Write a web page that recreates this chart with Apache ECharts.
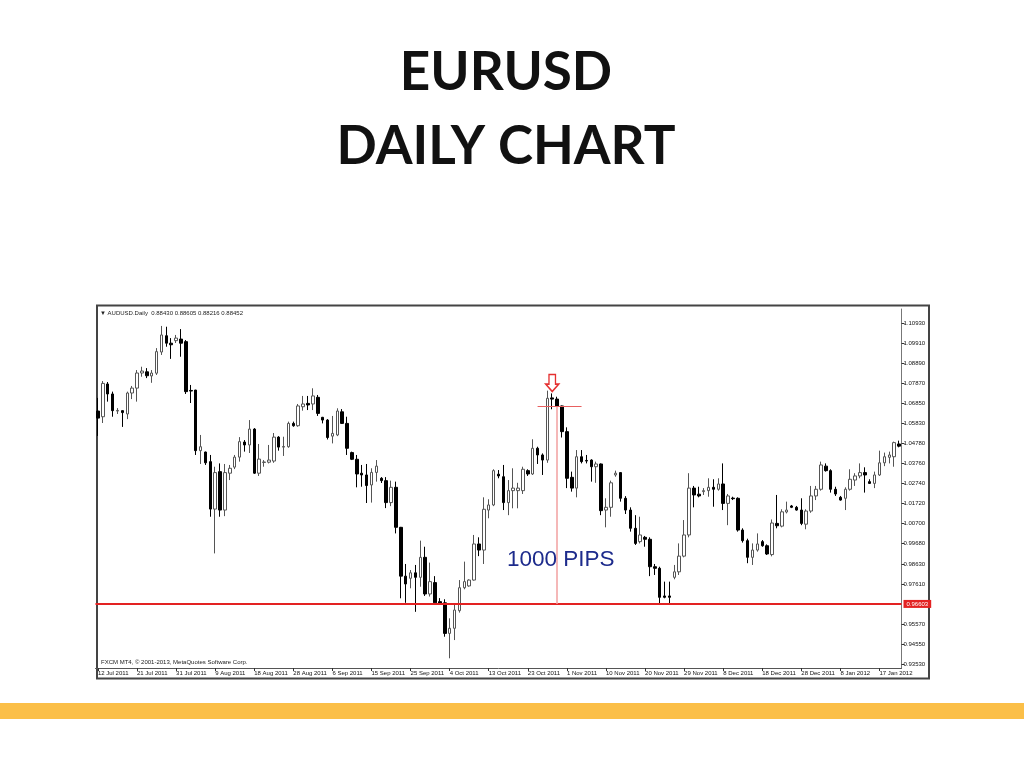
<!DOCTYPE html>
<html><head><meta charset="utf-8">
<script src="https://cdn.jsdelivr.net/npm/echarts@6/dist/echarts.min.js"></script>
<style>html,body{margin:0;padding:0;background:#fff}#c{width:1024px;height:768px}</style>
</head><body><div id="c"></div>
<script>
const dateLabels = ['12 Jul 2011','21 Jul 2011','31 Jul 2011','9 Aug 2011','18 Aug 2011','28 Aug 2011','6 Sep 2011','15 Sep 2011','25 Sep 2011','4 Oct 2011','13 Oct 2011','23 Oct 2011','1 Nov 2011','10 Nov 2011','20 Nov 2011','29 Nov 2011','8 Dec 2011','18 Dec 2011','28 Dec 2011','8 Jan 2012','17 Jan 2012'];
const priceTicks = [1.10930,1.09910,1.08890,1.07870,1.06850,1.05830,1.04780,1.03760,1.02740,1.01720,1.00700,0.99680,0.98630,0.97610,0.95570,0.94550,0.93530];
const supportLevel = 0.96603;
const topLevel = 1.0666;

const opens = [1.0644,1.0615,1.0782,1.0731,1.0644,1.0646,1.0629,1.0736,1.0761,1.0838,
1.0844,1.0823,1.0837,1.0945,1.1028,1.0990,1.1003,1.1011,1.0998,1.0749,
1.0751,1.0442,1.0435,1.0386,1.0144,1.0335,1.0139,1.0327,1.0358,1.0409,
1.0486,1.0471,1.0552,1.0327,1.0382,1.0383,1.0389,1.0511,1.0460,1.0462,
1.0581,1.0569,1.0666,1.0683,1.0680,1.0714,1.0612,1.0598,1.0516,1.0522,
1.0640,1.0581,1.0432,1.0398,1.0327,1.0318,1.0267,1.0331,1.0301,1.0289,
1.0177,1.0255,1.0051,0.9802,0.9791,0.9819,0.9796,0.9898,0.9711,0.9769,
0.9672,0.9666,0.9510,0.9536,0.9626,0.9743,0.9752,0.9782,0.9966,0.9935,
1.0139,1.0165,1.0322,1.0309,1.0177,1.0238,1.0238,1.0238,1.0340,1.0323,
1.0454,1.0420,1.0394,1.0711,1.0705,1.0670,1.0539,1.0306,1.0251,1.0411,
1.0392,1.0394,1.0360,1.0374,1.0139,1.0153,1.0318,1.0330,1.0199,1.0139,
1.0046,0.9978,1.0000,0.9990,0.9850,0.9842,0.9701,0.9701,0.9796,0.9824,
0.9904,1.0012,1.0251,1.0220,1.0233,1.0238,1.0255,1.0245,1.0272,1.0173,
1.0200,1.0199,1.0037,0.9983,0.9898,0.9935,0.9978,0.9957,0.9912,1.0071,
1.0057,1.0129,1.0160,1.0153,1.0139,1.0067,1.0134,1.0211,1.0245,1.0363,
1.0340,1.0245,1.0204,1.0199,1.0245,1.0292,1.0313,1.0330,1.0284,1.0275,
1.0318,1.0380,1.0408,1.0411,1.0476];
const closes = [1.0608,1.0785,1.0731,1.0646,1.0647,1.0636,1.0736,1.0761,1.0838,1.0848,
1.0824,1.0838,1.0947,1.1032,1.0990,1.0982,1.1016,1.0990,1.0743,1.0746,
1.0442,1.0462,1.0380,1.0144,1.0330,1.0139,1.0330,1.0352,1.0409,1.0488,
1.0471,1.0552,1.0327,1.0399,1.0384,1.0394,1.0511,1.0460,1.0463,1.0581,
1.0569,1.0670,1.0680,1.0675,1.0721,1.0632,1.0598,1.0509,1.0530,1.0644,
1.0581,1.0454,1.0398,1.0323,1.0318,1.0264,1.0331,1.0363,1.0289,1.0177,
1.0255,1.0051,0.9802,0.9762,0.9819,0.9796,0.9898,0.9711,0.9774,0.9666,
0.9663,0.9510,0.9536,0.9629,0.9743,0.9774,0.9782,0.9966,0.9935,1.0143,
1.0165,1.0340,1.0313,1.0177,1.0238,1.0251,1.0251,1.0347,1.0323,1.0454,
1.0420,1.0394,1.0709,1.0705,1.0670,1.0539,1.0301,1.0251,1.0411,1.0386,
1.0389,1.0360,1.0374,1.0136,1.0153,1.0278,1.0327,1.0199,1.0139,1.0046,
0.9969,1.0012,0.9990,0.9850,0.9842,0.9694,0.9694,0.9694,0.9824,0.9904,
1.0012,1.0251,1.0216,1.0211,1.0238,1.0255,1.0245,1.0272,1.0173,1.0211,
1.0197,1.0037,0.9983,0.9898,0.9935,0.9966,0.9957,0.9915,1.0073,1.0059,
1.0130,1.0139,1.0153,1.0139,1.0071,1.0134,1.0211,1.0245,1.0369,1.0340,
1.0245,1.0221,1.0190,1.0245,1.0296,1.0313,1.0330,1.0318,1.0275,1.0318,
1.0380,1.0411,1.0420,1.0483,1.0465];
const lows = [1.0517,1.0583,1.0692,1.0615,1.0629,1.0563,1.0603,1.0705,1.0692,1.0819,
1.0812,1.0788,1.0828,1.0930,1.0972,1.0910,1.0991,1.0921,1.0731,1.0685,
1.0420,1.0374,1.0369,1.0105,0.9918,1.0105,1.0108,1.0292,1.0348,1.0386,
1.0437,1.0430,1.0323,1.0313,1.0360,1.0377,1.0380,1.0442,1.0415,1.0457,
1.0564,1.0564,1.0646,1.0649,1.0649,1.0619,1.0581,1.0499,1.0479,1.0516,
1.0578,1.0420,1.0394,1.0255,1.0258,1.0175,1.0177,1.0284,1.0277,1.0149,
1.0159,1.0020,0.9689,0.9666,0.9740,0.9620,0.9748,0.9701,0.9698,0.9663,
0.9660,0.9493,0.9383,0.9476,0.9616,0.9735,0.9748,0.9779,0.9904,0.9864,
1.0097,1.0159,1.0301,1.0139,1.0113,1.0148,1.0148,1.0221,1.0313,1.0318,
1.0374,1.0318,1.0380,1.0653,1.0666,1.0509,1.0251,1.0233,1.0204,1.0377,
1.0377,1.0284,1.0278,1.0113,1.0051,1.0105,1.0309,1.0182,1.0119,1.0029,
0.9961,0.9969,0.9952,0.9802,0.9808,0.9660,0.9689,0.9660,0.9786,0.9808,
0.9898,1.0000,1.0153,1.0204,1.0216,1.0207,1.0156,1.0238,1.0139,1.0062,
1.0190,1.0029,0.9973,0.9868,0.9859,0.9927,0.9952,0.9910,0.9903,1.0046,
1.0051,1.0122,1.0149,1.0136,1.0062,1.0041,1.0125,1.0190,1.0238,1.0335,
1.0228,1.0211,1.0187,1.0139,1.0238,1.0262,1.0301,1.0228,1.0272,1.0251,
1.0313,1.0363,1.0377,1.0360,1.0459];
const highs = [1.0711,1.0797,1.0792,1.0743,1.0659,1.0647,1.0743,1.0772,1.0853,1.0870,
1.0863,1.0853,1.0965,1.1078,1.1074,1.1016,1.1032,1.1062,1.1006,1.0777,
1.0752,1.0522,1.0437,1.0420,1.0360,1.0377,1.0374,1.0369,1.0420,1.0511,
1.0496,1.0598,1.0557,1.0476,1.0394,1.0471,1.0532,1.0516,1.0513,1.0590,
1.0590,1.0680,1.0721,1.0721,1.0760,1.0726,1.0614,1.0603,1.0619,1.0658,
1.0654,1.0615,1.0437,1.0420,1.0369,1.0374,1.0352,1.0394,1.0307,1.0307,
1.0289,1.0284,1.0053,0.9864,0.9833,0.9859,0.9983,0.9952,0.9871,0.9802,
0.9690,0.9684,0.9587,0.9663,0.9782,0.9876,0.9786,1.0012,1.0000,1.0204,
1.0194,1.0347,1.0343,1.0369,1.0292,1.0352,1.0278,1.0360,1.0347,1.0500,
1.0462,1.0428,1.0748,1.0734,1.0717,1.0672,1.0561,1.0335,1.0445,1.0445,
1.0420,1.0398,1.0386,1.0377,1.0199,1.0289,1.0340,1.0331,1.0210,1.0153,
1.0113,1.0105,1.0007,1.0000,0.9864,0.9850,0.9774,0.9774,0.9859,0.9969,
1.0088,1.0327,1.0262,1.0258,1.0251,1.0301,1.0296,1.0301,1.0377,1.0221,
1.0207,1.0204,1.0046,0.9993,0.9969,1.0020,0.9986,0.9964,1.0091,1.0216,
1.0143,1.0182,1.0165,1.0160,1.0199,1.0143,1.0262,1.0262,1.0386,1.0377,
1.0347,1.0258,1.0211,1.0255,1.0347,1.0327,1.0377,1.0357,1.0296,1.0335,
1.0442,1.0432,1.0437,1.0488,1.0493];

const categories = opens.map((_, i) => String(i));
const ohlc = opens.map((o, i) => [o, closes[i], lows[i], highs[i]]);

const chart = echarts.init(document.getElementById('c'), null, {renderer: 'canvas', devicePixelRatio: 1});
const smallFont = 'Liberation Sans';
chart.setOption({
  animation: false,
  backgroundColor: '#ffffff',
  grid: {left: 95.5, top: 309, width: 806, height: 359, containLabel: false},
  xAxis: {
    type: 'category', data: categories, boundaryGap: true,
    axisLine: {show: true, lineStyle: {color: '#555', width: 1}},
    axisTick: {show: true, interval: 7, alignWithLabel: true, length: 3, lineStyle: {color: '#333'}},
    axisLabel: {interval: 7, align: 'left', margin: 2, fontSize: 6, color: '#111', fontFamily: smallFont,
      formatter: (v, idx) => dateLabels[Math.round(idx / 8)] || ''},
    splitLine: {show: false}
  },
  yAxis: {
    type: 'value', position: 'right', scale: true, min: 0.93335, max: 1.11644,
    axisLine: {show: true, lineStyle: {color: '#777', width: 1}},
    axisTick: {show: true, customValues: priceTicks, length: 3, lineStyle: {color: '#333'}},
    axisLabel: {customValues: priceTicks, margin: 2, fontSize: 6, color: '#111', fontFamily: smallFont,
      formatter: v => v.toFixed(5)},
    splitLine: {show: false}
  },
  graphic: [
    {type: 'rect', z: -10, shape: {x: 97, y: 305.5, width: 832, height: 373}, style: {fill: '#fff', stroke: '#444', lineWidth: 2}},
    {type: 'rect', z: -10, shape: {x: 0, y: 703, width: 1024, height: 16}, style: {fill: '#FBBF48'}},
    {type: 'text', x: 506, y: 73, style: {text: 'EURUSD', font: 'bold 53px Lato', fill: '#111', align: 'center', verticalAlign: 'middle'}},
    {type: 'text', x: 506, y: 147, style: {text: 'DAILY CHART', font: 'bold 53px Lato', fill: '#111', align: 'center', verticalAlign: 'middle'}},
    {type: 'text', x: 100, y: 313, style: {text: '\u25BC AUDUSD.Daily  0.88430 0.88605 0.88216 0.88452', font: '6px "Liberation Sans"', fill: '#222', verticalAlign: 'middle'}},
    {type: 'text', x: 101, y: 662, style: {text: 'FXCM MT4, \u00A9 2001-2013, MetaQuotes Software Corp.', font: '6px "Liberation Sans"', fill: '#222', verticalAlign: 'middle'}},
    {type: 'text', x: 507, y: 560, z: 10, style: {text: '1000 PIPS', font: '22.5px "Liberation Sans"', fill: '#1d2b8c', verticalAlign: 'middle'}}
  ],
  series: [{
    type: 'candlestick', data: ohlc, barWidth: 3,
    itemStyle: {color: '#ffffff', color0: '#000000', borderColor: '#555555', borderColor0: '#000000', borderWidth: 1},
    markLine: {
      silent: true, symbol: ['none', 'none'], animation: false, precision: 5,
      data: [
        {yAxis: supportLevel, lineStyle: {color: '#e32222', width: 2, type: 'solid'},
         label: {show: true, position: 'end', distance: 2, formatter: '0.96603', fontSize: 6, color: '#fff',
                 backgroundColor: '#e32222', padding: [1, 3], fontFamily: smallFont}},
        [{coord: [90, topLevel], lineStyle: {color: '#e86060', width: 1.2, type: 'solid'}, label: {show: false}},
         {coord: [99, topLevel]}],
        [{coord: [94, topLevel], lineStyle: {color: '#f2a0a0', width: 1.5, type: 'solid'}, label: {show: false}},
         {coord: [94, supportLevel]}]
      ]
    },
    markPoint: {
      silent: true, animation: false,
      data: [{coord: [93, 1.0787], symbol: 'path://M3,0 L9,0 L9,9 L12,9 L6,16 L0,9 L3,9 Z', symbolSize: [13, 17],
              itemStyle: {color: '#ffffff', borderColor: '#e53030', borderWidth: 1.5}, label: {show: false}}]
    }
  }]
});
</script>
</body></html>
